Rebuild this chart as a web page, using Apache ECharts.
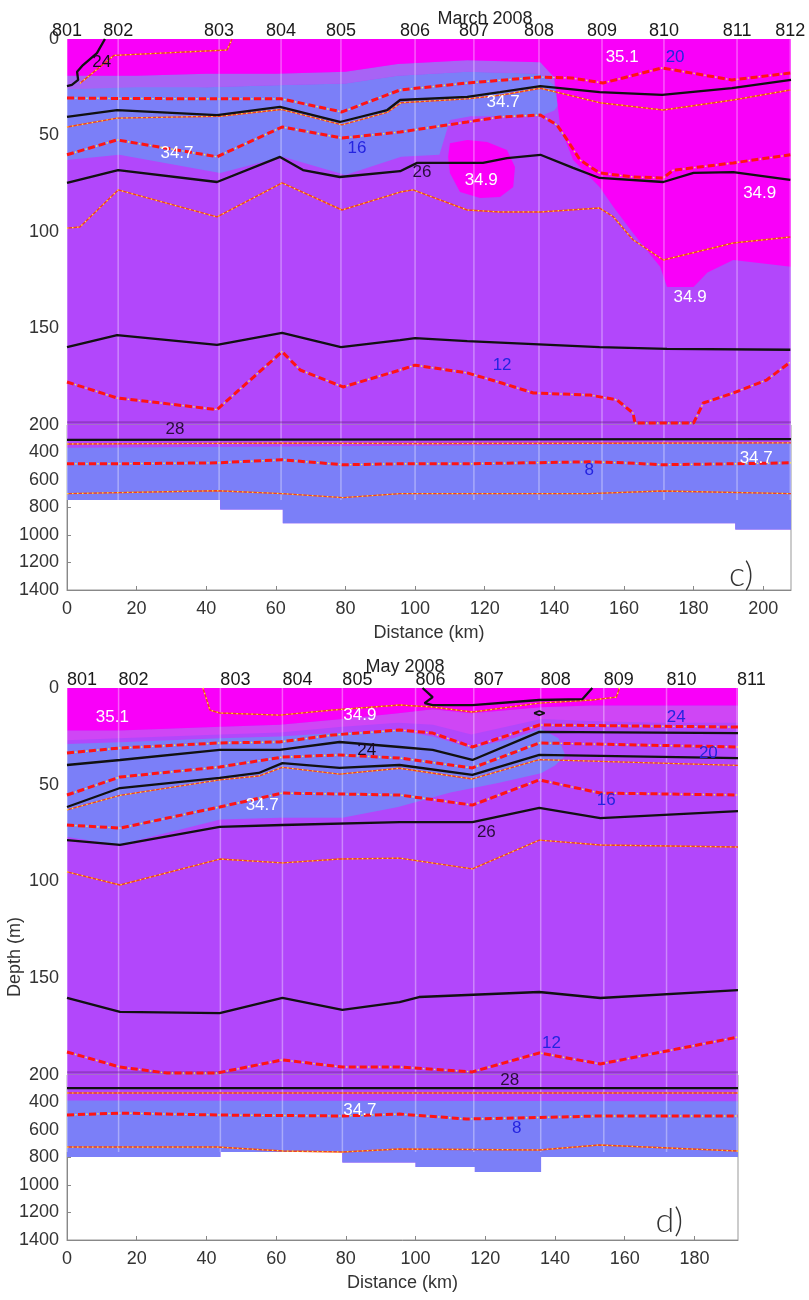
<!DOCTYPE html>
<html>
<head>
<meta charset="utf-8">
<script src="https://cdn.jsdelivr.net/npm/echarts@6.0.0/dist/echarts.min.js"></script>
<style>
  html, body { margin: 0; padding: 0; background: #fff; }
  #chart { width: 809px; height: 1300px; }
</style>
</head>
<body>
<div id="chart"></div>
<script>
// ---------- panel c) March 2008 ----------
var cStations = ['801','802','803','804','805','806','807','808','809','810','811','812'];
var cStationKm = [0, 14.7, 43.7, 61.5, 78.7, 100, 116.9, 135.6, 153.7, 171.5, 192.5, 207.8];
var cMaxKm = 208;

var cMagenta = [[0,0],[208,0],[208,118],[191.4,114.5],[184,121],[180,128.5],[172.4,128.5],[170.4,118],[162.6,100.5],[157,87],[153,76.7],[145.4,62.7],[141.7,45.6],[140,20],[136,12],[115,11],[95,13],[80,17],[60,18],[40,18],[20,19],[0,19]];
var cTransition = [[0,19],[20,19],[40,18],[60,18],[80,17],[95,13],[115,11],[136,12],[140,20],[140,24],[136,18],[115,17],[95,19],[80,23],[60,24],[40,25],[20,25],[0,26]];
var cBlue = [[0,24],[20,24],[40,25],[60,24],[80,23],[95,19],[115,17],[136,18],[140,24],[142,32],[140,37],[136,40],[116,40],[110,42],[107,60],[96,61],[80,70.5],[62,61],[44,69.4],[15,60],[0,62.7]];
var cBlob = [[110,54],[115,52.3],[120.7,53.4],[126.4,57.5],[128.7,66.3],[128.2,76.7],[124.4,81.9],[118.7,82.4],[112.9,79.3],[110,69.4],[109.5,61.1]];
var cDeepBlueTop = [[0,365],[100,350],[208,330]];
var cBathyKm = [0, 44, 62, 192, 208];
var cBathyDepth = [745, 815, 915, 960];

var cBlack24 = [[10.9,0],[8.6,7.3],[4.6,13.5],[2.9,17],[3.2,21.2],[1.4,23.8],[0,24.4]];
var cSal351 = [[3.7,23],[13.5,8.5],[46,5.7],[47.4,0]];
var cTemp20 = [[0,30.6],[14.4,30.8],[43,31],[61.5,31],[79,37.8],[95.7,26.4],[115,22.8],[136,19.7],[145,20.2],[154,22.8],[171,15],[191,21.2],[208,17.6]];
var cBlack25 = [[0,40.4],[14.4,36.8],[43.1,39.4],[61.2,35.2],[78.4,43],[92,36.8],[95.7,31.6],[115,30],[124.4,27.5],[136,24.4],[153,27.5],[171,29],[191,25.4],[208,21.2]];
var cSal347 = [[0,45.6],[14.4,41],[44,40],[61.5,36.5],[79,44.5],[92,38],[96,33],[115,31],[125,29],[136,25.5],[153,33],[171.3,36.8],[191.4,31.6],[207.8,26.4]];
var cTemp16 = [[0,60],[14.4,52.3],[43.1,61],[61.8,45.6],[79,51.3],[95.7,48.2],[115,43],[124.4,40.4],[136,39.4],[140.8,44.6],[143.7,52.3],[147.4,62.7],[153,69.4],[162.6,71.5],[171.3,72],[174.1,68],[191.4,64.2],[207.8,60]];
var cBlack26 = [[0,74.6],[14.7,67.9],[43.1,74.1],[61.2,61.1],[67.8,67.9],[78.4,71.5],[95.7,68.5],[100.6,64.2],[119.5,64.2],[126.4,61.7],[136,60],[145.4,66.8],[153,72],[171.3,74.1],[180,69.4],[191.4,69],[207.8,73]];
var cSal349 = [[0,98],[3.7,97.4],[14.7,78.2],[43.1,92.2],[61.8,74.6],[79,88.6],[95.7,79.3],[99.4,78.2],[115,88.6],[124.4,89.6],[136,89.6],[153,87.6],[157,92.2],[162.6,104],[171.3,114.5],[191.4,105.7],[207.8,102.6]];
var cBlack27 = [[0,159.6],[14.4,153.4],[43.1,158.5],[61.8,152.3],[78.7,159.6],[95.7,156],[100,155],[115,156.5],[153,159.6],[172.4,160.6],[207.8,161]];
var cTemp12 = [[0,177.7],[14.4,186],[43.1,192],[61.8,162],[67,171.5],[79.3,180.3],[95.7,171.5],[100,169],[115,173],[124.4,178],[134,183.4],[150.3,184.5],[158,187],[162.6,193.8],[163.2,199],[180,199],[182.8,188.6],[191.4,183.4],[201,176.7],[207.8,167.4]];
var cBlack28 = [[0,308],[60,306],[120,304],[208,302]];
var cSalDeep1 = [[0,338],[60,332],[100,335],[150,333],[208,330]];
var cTemp8 = [[0,482],[14.4,482],[43.1,475],[61.8,453],[79.3,489],[95.7,482],[115,482],[150,468],[160,475],[171,489],[191,482],[208,475]];
var cSalDeep2 = [[0,699],[43,678],[61.8,699],[79.3,728],[95.7,699],[150,699],[171,680],[208,699]];

var cLabelPos = [[10,12],[31.6,59],[83.3,56.5],[102,69],[119,73],[125.3,33],[159.5,9.3],[174.7,9.3],[199,80],[179,134],[125,169]];
var cLabelText = ['24','34.7','16','26','34.9','34.7','35.1','20','34.9','34.9','12'];
var cLabelColor = ['#1a0a22','#ffffff','#2424e0','#2a0c3c','#ffffff','#ffffff','#ffffff','#2424e0','#ffffff','#ffffff','#2424e0'];
var cDeepLabelPos = [[31,229],[150,533],[198,439]];
var cDeepLabelText = ['28','8','34.7'];
var cDeepLabelColor = ['#2a0c3c','#2424e0','#ffffff'];

// ---------- panel d) May 2008 ----------
var dStations = ['801','802','803','804','805','806','807','808','809','810','811'];
var dStationKm = [0, 14.8, 44, 61.8, 79, 100, 116.7, 135.9, 154, 172, 192.2];
var dMaxKm = 192.5;

var dMagenta = [[0,0],[192.5,0],[192.5,9],[170,9],[150,9],[136,10],[116,13],[105,11],[95,13],[79,16],[61,19],[44,20],[15,22],[0,22]];
var dTransition = [[0,22],[15,22],[44,20],[61,19],[79,16],[95,13],[105,11],[116,13],[136,10],[150,9],[170,9],[192.5,9],[192.5,18],[170,18],[150,17],[136,16],[116,24],[105,19],[95,18],[79,20],[61,23],[44,24],[15,26],[0,27]];
var dBlue = [[0,29],[15,28],[44,26],[61,25],[79,23],[95,22],[105,25],[116,31],[128,26],[136,21],[141,26],[143,35],[140,40],[136,44],[124,49],[110,54],[95,61.5],[79,67],[61,67],[44,68],[15,81],[0,77]];
var dDeepBlueTop = [[0,385],[192.5,390]];
var dBathyKm = [0, 44, 79, 100, 117, 136, 192.5];
var dBathyDepth = [796, 760, 836, 869, 905, 796];

var dSal349a = [[39,0],[41,11.4],[43.8,12.9],[61,14],[76.2,11.4],[95.4,8.8],[104.9,9.8],[116.3,12.4],[135.5,7.8],[150.7,6.2],[157.6,4.7],[158.5,0]];
var dBlack23 = [[102,0],[104.9,4.7],[102.6,7.8],[104.9,8.8],[116.3,8.8],[135.5,6.2],[147.9,5.7],[150.7,0]];
var dBlackLoop = [[134,13],[135.5,11.9],[137,13],[135.5,14.1],[134,13]];
var dTemp24 = [[0,33.6],[15.2,31],[43.8,28.4],[61,27.9],[76.2,24.3],[95.4,21.7],[104.9,23.3],[116.3,30.5],[135.5,19.1],[192.5,20.2]];
var dBlack24 = [[0,39.8],[15.2,37.2],[43.8,32],[61,32],[78.2,27.9],[95.4,30.5],[104.9,32],[116.3,37.2],[135.5,22.7],[192.5,23.3]];
var dTemp20 = [[0,55.3],[15.2,46],[43.8,40.8],[61.8,35.7],[78.2,34.6],[95.4,36.2],[116.3,41.3],[135.5,28.4],[192.5,30.5]];
var dBlack25 = [[0,61.5],[15.2,51.7],[43.8,46.5],[55,43.9],[61.8,38.8],[78.2,41.3],[95.4,39.8],[116.3,44.9],[135.5,34.6],[192.5,36.2]];
var dSal347 = [[0,63],[15.2,55.5],[43.8,47.5],[55,45.5],[61.8,41],[78.2,44.5],[95.4,41.5],[116.3,47],[135.5,37],[192.5,40]];
var dTemp16 = [[0,70.8],[15.2,72.4],[43.8,61.5],[61.8,54.3],[95.4,55.3],[116.3,60.5],[135.5,47.5],[153,54.3],[192.5,55.3]];
var dBlack26 = [[0,78.6],[15.2,81.1],[43.8,71.8],[61.8,70.8],[95.4,69.3],[116.3,69.3],[135.5,62],[153,67.2],[192.5,63.6]];
var dSal349b = [[0,95],[15.2,101.8],[43.8,88.4],[61.8,90.4],[78.2,88.4],[95.4,87.9],[116.3,93.5],[135.5,78.6],[153,81.1],[192.5,82.2]];
var dBlack27 = [[0,160.2],[15.2,167.4],[43.8,168],[61.8,160.2],[79,166.4],[95.4,162.3],[101,159.7],[135.5,157.1],[153,160.2],[192.5,156.1]];
var dTemp12 = [[0,188.1],[15.2,195.9],[28.7,199],[43,199],[61.8,192.2],[79,195.9],[95.4,195.9],[116.3,198.4],[135.5,188.6],[153,194.3],[192.5,180.4]];
var dBlack28 = [[0,295],[192.5,295]];
var dSalDeep1 = [[0,331],[192.5,331]];
var dTemp8 = [[0,491],[15.2,477],[43,491],[79,498],[95.4,484],[114.6,520],[129,513],[152.7,498],[192.5,498]];
var dSalDeep2 = [[0,724],[43,724],[62,753],[79,760],[95.4,738],[135.5,745],[152.7,709],[192.5,753]];

var dLabelPos = [[13,15],[84,14],[86,32],[56,60.5],[174.8,15],[184,33.6],[154.7,58],[120.3,74.4],[139,183.5]];
var dLabelText = ['35.1','34.9','24','34.7','24','20','16','26','12'];
var dLabelColor = ['#ffffff','#ffffff','#1a0a22','#ffffff','#2424e0','#2424e0','#2424e0','#2a0c3c','#2424e0'];
var dDeepLabelPos = [[127,236],[84,455],[129,585]];
var dDeepLabelText = ['28','34.7','8'];
var dDeepLabelColor = ['#2a0c3c','#ffffff','#2424e0'];

// ---------- styling ----------
var PURPLE = '#b247fb';
var BLUE = '#7b7ff8';
var MAGENTA = '#f900f9';
var TRANS_C = '#a863f5';
var TRANS_D = '#cf46f5';
var FONT = 'Liberation Sans';

function bathyPoints(kms, depths) {
  var pts = [];
  for (var i = 0; i < depths.length; i++) {
    pts.push([kms[i], depths[i]]);
    pts.push([kms[i + 1], depths[i]]);
  }
  return pts;
}

function poly(pts, color, gi, z) {
  return {
    type: 'custom', xAxisIndex: gi, yAxisIndex: gi, silent: true, z: z || 1,
    data: pts,
    renderItem: function (params, api) {
      if (params.dataIndex !== 0) return null;
      return {
        type: 'polygon',
        shape: { points: pts.map(function (p) { return api.coord(p); }) },
        style: { fill: color }
      };
    }
  };
}

function line(pts, gi, color, width, type, z, offset) {
  return {
    type: 'line', xAxisIndex: gi, yAxisIndex: gi, data: pts, symbol: 'none',
    silent: true, z: z || 3,
    lineStyle: { color: color, width: width, type: type || 'solid', cap: 'butt', dashOffset: offset || 0 }
  };
}

// temperature: red dashes, yellow dot in each gap
function tempLine(pts, gi) {
  return [
    line(pts, gi, '#ff1414', 3, [7, 4], 4),
    line(pts, gi, '#ffe84a', 1.4, [1.5, 9.5], 5, -8.2)
  ];
}
// salinity: thin orange dotted with yellow
function salLine(pts, gi) {
  return [
    line(pts, gi, '#f2401e', 1.4, 'solid', 3),
    line(pts, gi, '#ffe84a', 1.2, [1.5, 3.5], 3)
  ];
}
function blackLine(pts, gi) {
  return line(pts, gi, '#111111', 2.3, 'solid', 4);
}

function labels(pos, texts, colors, gi, size, opts) {
  opts = opts || {};
  return {
    type: 'custom', xAxisIndex: gi, yAxisIndex: gi, silent: true, z: 8,
    data: pos,
    renderItem: function (params, api) {
      var c = api.coord([api.value(0), api.value(1)]);
      return {
        type: 'text', x: c[0], y: c[1] + (opts.dy || 0),
        style: {
          text: texts[params.dataIndex], fill: colors[params.dataIndex],
          font: (opts.weight || 'normal') + ' ' + size + 'px ' + (opts.family || FONT),
          align: opts.align || 'center', verticalAlign: 'middle'
        }
      };
    }
  };
}

function stationLines(kms, gi, d0, d1) {
  return {
    type: 'custom', xAxisIndex: gi, yAxisIndex: gi, silent: true, z: 2,
    data: kms,
    renderItem: function (params, api) {
      var km = api.value(0);
      var a = api.coord([km, d0]), b = api.coord([km, d1]);
      return {
        type: 'line', shape: { x1: a[0], y1: a[1], x2: b[0], y2: b[1] },
        style: { stroke: 'rgba(255,255,255,0.35)', lineWidth: 1.5 }
      };
    }
  };
}

function stationLabels(names, kms, gi, align) {
  var pos = kms.map(function (k) { return [k, 0]; });
  var cols = names.map(function () { return '#1a1a1a'; });
  return labels(pos, names, cols, gi, 18, { dy: -8, align: align });
}

// ---------- axes ----------
var axisTxt = { color: '#333', fontSize: 18, fontFamily: FONT };
var grids = [
  { left: 67, top: 39, width: 724, height: 386, show: true, backgroundColor: PURPLE, borderWidth: 0 },
  { left: 67, top: 425, width: 724, height: 165, show: true, backgroundColor: 'transparent', borderColor: '#999', borderWidth: 1 },
  { left: 67, top: 688, width: 671, height: 387, show: true, backgroundColor: PURPLE, borderWidth: 0 },
  { left: 67, top: 1075, width: 671, height: 165, show: true, backgroundColor: 'transparent', borderColor: '#999', borderWidth: 1 }
];
function plain(v) { return String(v); }
function xAx(gi, max, shown) {
  return {
    type: 'value', gridIndex: gi, min: 0, max: max, interval: 20,
    show: shown,
    axisLine: { show: true, lineStyle: { color: '#888' } },
    axisTick: { inside: true, length: 4, lineStyle: { color: '#888' } },
    axisLabel: Object.assign({ margin: 10, showMaxLabel: false, formatter: plain }, axisTxt),
    splitLine: { show: false },
    name: shown ? 'Distance (km)' : '', nameLocation: 'middle', nameGap: 34,
    nameTextStyle: axisTxt
  };
}
function yAx(gi, min, max, interval, deep) {
  return {
    type: 'value', gridIndex: gi, inverse: true, min: min, max: max, interval: interval,
    axisLine: { show: deep, lineStyle: { color: '#888' } },
    axisTick: { show: deep, inside: true, length: 4, lineStyle: { color: '#888' } },
    axisLabel: Object.assign({ margin: 8, showMaxLabel: deep, formatter: plain }, axisTxt),
    splitLine: { show: false }
  };
}

// ---------- series ----------
var series = [];
// panel c fills
series.push(poly(cBlue, BLUE, 0, 1));
series.push(poly(cTransition, TRANS_C, 0, 1));
series.push(poly(cMagenta, MAGENTA, 0, 1));
series.push(poly(cBlob, MAGENTA, 0, 1));
var cBathy = bathyPoints(cBathyKm, cBathyDepth);
series.push(poly([[0, 200], [cMaxKm, 200]].concat(cBathy.slice().reverse()), PURPLE, 1, 1));
series.push(poly(cDeepBlueTop.concat(cBathy.slice().reverse()), BLUE, 1, 1));
// panel d fills
series.push(poly(dBlue, BLUE, 2, 1));
series.push(poly(dTransition, TRANS_D, 2, 1));
series.push(poly(dMagenta, MAGENTA, 2, 1));
var dBathy = bathyPoints(dBathyKm, dBathyDepth);
series.push(poly([[0, 200], [dMaxKm, 200]].concat(dBathy.slice().reverse()), PURPLE, 3, 1));
series.push(poly(dDeepBlueTop.concat(dBathy.slice().reverse()), BLUE, 3, 1));

// station grid lines
series.push(stationLines(cStationKm, 0, 0, 200));
series.push(stationLines(cStationKm, 1, 200, 745));
series.push(stationLines(dStationKm, 2, 0, 200));
series.push(stationLines(dStationKm, 3, 200, 760));
// faint line at the axis break
series.push(line([[0, 198.6], [cMaxKm, 198.6]], 0, 'rgba(90,30,110,0.35)', 2, 'solid', 2));
series.push(line([[0, 198.6], [dMaxKm, 198.6]], 2, 'rgba(90,30,110,0.35)', 2, 'solid', 2));

// panel c contours
series.push(blackLine(cBlack24, 0));
series = series.concat(salLine(cSal351, 0));
series = series.concat(tempLine(cTemp20, 0));
series.push(blackLine(cBlack25, 0));
series = series.concat(salLine(cSal347, 0));
series = series.concat(tempLine(cTemp16, 0));
series.push(blackLine(cBlack26, 0));
series = series.concat(salLine(cSal349, 0));
series.push(blackLine(cBlack27, 0));
series = series.concat(tempLine(cTemp12, 0));
series.push(blackLine(cBlack28, 1));
series = series.concat(salLine(cSalDeep1, 1));
series = series.concat(tempLine(cTemp8, 1));
series = series.concat(salLine(cSalDeep2, 1));

// panel d contours
series = series.concat(salLine(dSal349a, 2));
series.push(blackLine(dBlack23, 2));
series.push(line(dBlackLoop, 2, '#111111', 1.8, 'solid', 4));
series = series.concat(tempLine(dTemp24, 2));
series.push(blackLine(dBlack24, 2));
series = series.concat(tempLine(dTemp20, 2));
series = series.concat(salLine(dSal347, 2));
series.push(blackLine(dBlack25, 2));
series = series.concat(tempLine(dTemp16, 2));
series.push(blackLine(dBlack26, 2));
series = series.concat(salLine(dSal349b, 2));
series.push(blackLine(dBlack27, 2));
series = series.concat(tempLine(dTemp12, 2));
series.push(blackLine(dBlack28, 3));
series = series.concat(salLine(dSalDeep1, 3));
series = series.concat(tempLine(dTemp8, 3));
series = series.concat(salLine(dSalDeep2, 3));

// labels
series.push(labels(cLabelPos, cLabelText, cLabelColor, 0, 17));
series.push(labels(cDeepLabelPos, cDeepLabelText, cDeepLabelColor, 1, 17));
series.push(labels(dLabelPos, dLabelText, dLabelColor, 2, 17));
series.push(labels(dDeepLabelPos, dDeepLabelText, dDeepLabelColor, 3, 17));
series.push(stationLabels(cStations, cStationKm, 0, 'center'));
series.push(stationLabels(dStations, dStationKm, 2, 'left'));
series.push(labels([[193.7, 1292]], ['c)'], ['#333'], 1, 34, { family: 'Lato', weight: 300 }));
series.push(labels([[172.8, 1262]], ['d)'], ['#333'], 3, 34, { family: 'Lato', weight: 300 }));

var option = {
  animation: false,
  backgroundColor: '#ffffff',
  textStyle: { fontFamily: FONT },
  title: [
    { text: 'March 2008', left: 480, top: 5, textAlign: 'center',
      textStyle: { fontSize: 18, fontWeight: 'normal', color: '#222', fontFamily: FONT } },
    { text: 'May 2008', left: 400, top: 653, textAlign: 'center',
      textStyle: { fontSize: 18, fontWeight: 'normal', color: '#222', fontFamily: FONT } }
  ],
  graphic: [
    { type: 'text', x: 15, y: 957, rotation: Math.PI / 2,
      style: { text: 'Depth (m)', fill: '#333', font: '18px ' + FONT, align: 'center', verticalAlign: 'middle' } }
  ],
  grid: grids,
  xAxis: [xAx(0, cMaxKm, false), xAx(1, cMaxKm, true), xAx(2, dMaxKm, false), xAx(3, dMaxKm, true)],
  yAxis: [yAx(0, 0, 200, 50, false), yAx(1, 200, 1400, 200, true), yAx(2, 0, 200, 50, false), yAx(3, 200, 1400, 200, true)],
  series: series
};

var chart = echarts.init(document.getElementById('chart'), null, { renderer: 'canvas' });
chart.setOption(option);
</script>
</body>
</html>
